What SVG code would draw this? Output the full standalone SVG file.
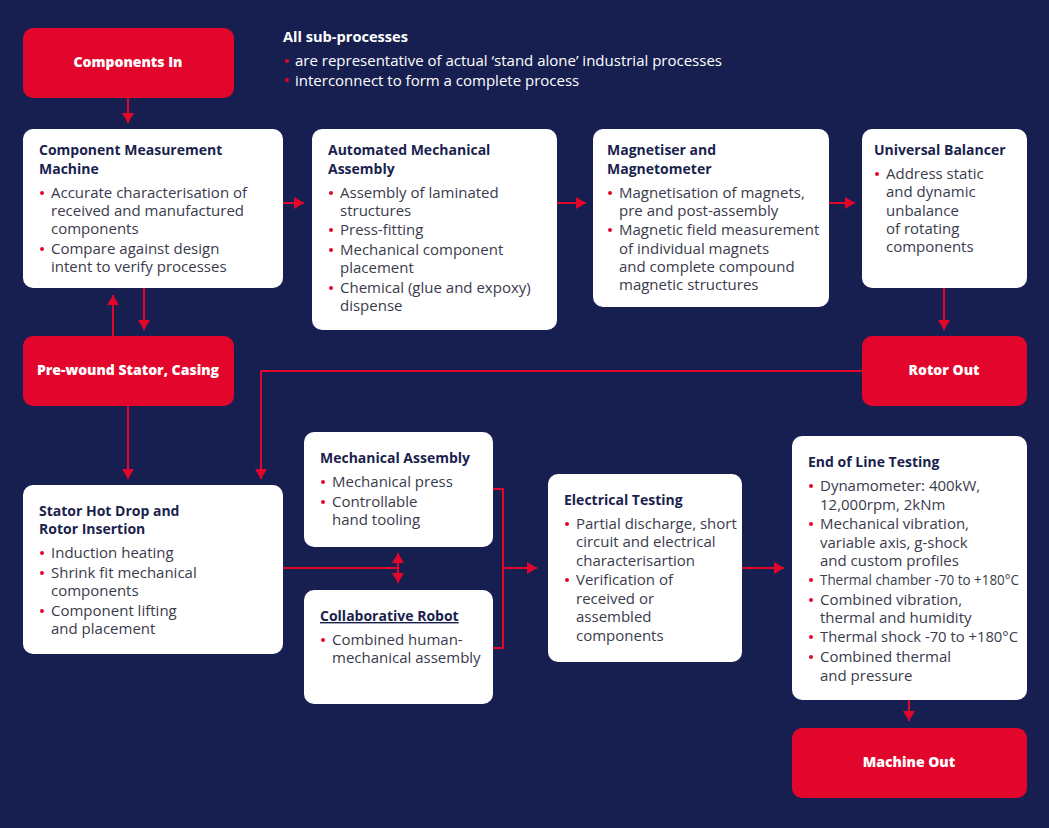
<svg xmlns="http://www.w3.org/2000/svg" width="1049" height="828" viewBox="0 0 1049 828">
<style>
.bg{fill:#171f50}
.card{fill:#ffffff}
.red{fill:#e3062c}
.rl{font-family:"Open Sans","Liberation Sans",Arial,sans-serif;font-size:14px;font-weight:800;fill:#ffffff;text-anchor:middle}
.t{font-family:"Open Sans","Liberation Sans",Arial,sans-serif;font-size:14px;font-weight:bold;fill:#1a1f4e}
.b{font-family:"Open Sans","Liberation Sans",Arial,sans-serif;font-size:15px;fill:#3a3b4c}
.h{font-family:"Open Sans","Liberation Sans",Arial,sans-serif;font-size:14.6px;font-weight:bold;fill:#ffffff}
.hb{font-family:"Open Sans","Liberation Sans",Arial,sans-serif;font-size:15px;fill:#ffffff}
.dot{fill:#e3062c}
.c{fill:none;stroke:#e3062c;stroke-width:2}
</style>
<defs>
<marker id="ah" markerUnits="userSpaceOnUse" markerWidth="10" markerHeight="12" refX="10" refY="6" orient="auto-start-reverse">
<path d="M0,0 L10,6 L0,12 z" fill="#e3062c"/>
</marker>
</defs>
<rect class="bg" x="0" y="0" width="1049" height="828"/>

<g id="header">
<text class="h" x="283" y="42">All sub-processes</text>
<circle class="dot" cx="287" cy="61" r="2"/>
<text class="hb" x="295" y="66">are representative of actual ‘stand alone’ industrial processes</text>
<circle class="dot" cx="287" cy="80" r="2"/>
<text class="hb" x="295" y="86">interconnect to form a complete process</text>
</g>

<g id="connectors">
<path class="c" d="M128,98 V123" marker-end="url(#ah)"/>
<path class="c" d="M283,203 H304" marker-end="url(#ah)"/>
<path class="c" d="M557,203 H586" marker-end="url(#ah)"/>
<path class="c" d="M829,203 H855" marker-end="url(#ah)"/>
<path class="c" d="M944,288 V330" marker-end="url(#ah)"/>
<path class="c" d="M144,288 V330" marker-end="url(#ah)"/>
<path class="c" d="M113,336 V295" marker-end="url(#ah)"/>
<path class="c" d="M128,406 V479" marker-end="url(#ah)"/>
<path class="c" d="M862,371 H261 V479" marker-end="url(#ah)"/>
<path class="c" d="M283,568 H398"/>
<path class="c" d="M398,553 V583" marker-start="url(#ah)" marker-end="url(#ah)"/>
<path class="c" d="M493,489 H503 V648 H493"/>
<path class="c" d="M503,568 H537" marker-end="url(#ah)"/>
<path class="c" d="M742,568 H784" marker-end="url(#ah)"/>
<path class="c" d="M909,700 V721" marker-end="url(#ah)"/>
</g>

<g id="components-in">
<rect class="red" x="23" y="28" width="211" height="70" rx="10"/>
<text class="rl" x="128" y="67">Components In</text>
</g>

<g id="component-measurement">
<rect class="card" x="23" y="129" width="260" height="159" rx="10"/>
<text class="t" x="39" y="155">Component Measurement</text>
<text class="t" x="39" y="174">Machine</text>
<circle class="dot" cx="42" cy="193" r="2"/>
<text class="b" x="51" y="198">Accurate characterisation of</text>
<text class="b" x="51" y="216">received and manufactured</text>
<text class="b" x="51" y="234">components</text>
<circle class="dot" cx="42" cy="249" r="2"/>
<text class="b" x="51" y="254">Compare against design</text>
<text class="b" x="51" y="272">intent to verify processes</text>
</g>

<g id="automated-mechanical-assembly">
<rect class="card" x="312" y="129" width="245" height="201" rx="10"/>
<text class="t" x="328" y="155">Automated Mechanical</text>
<text class="t" x="328" y="174">Assembly</text>
<circle class="dot" cx="331" cy="193" r="2"/>
<text class="b" x="340" y="198">Assembly of laminated</text>
<text class="b" x="340" y="216">structures</text>
<circle class="dot" cx="331" cy="230" r="2"/>
<text class="b" x="340" y="235">Press-fitting</text>
<circle class="dot" cx="331" cy="250" r="2"/>
<text class="b" x="340" y="255">Mechanical component</text>
<text class="b" x="340" y="273">placement</text>
<circle class="dot" cx="331" cy="288" r="2"/>
<text class="b" x="340" y="293">Chemical (glue and expoxy)</text>
<text class="b" x="340" y="311">dispense</text>
</g>

<g id="magnetiser">
<rect class="card" x="593" y="129" width="236" height="178" rx="10"/>
<text class="t" x="607" y="155">Magnetiser and</text>
<text class="t" x="607" y="174">Magnetometer</text>
<circle class="dot" cx="610" cy="193" r="2"/>
<text class="b" x="619" y="198">Magnetisation of magnets,</text>
<text class="b" x="619" y="216">pre and post-assembly</text>
<circle class="dot" cx="610" cy="230" r="2"/>
<text class="b" x="619" y="235">Magnetic field measurement</text>
<text class="b" x="619" y="254">of individual magnets</text>
<text class="b" x="619" y="272">and complete compound</text>
<text class="b" x="619" y="290">magnetic structures</text>
</g>

<g id="universal-balancer">
<rect class="card" x="862" y="129" width="165" height="159" rx="10"/>
<text class="t" x="874" y="155">Universal Balancer</text>
<circle class="dot" cx="877" cy="174" r="2"/>
<text class="b" x="886" y="179">Address static</text>
<text class="b" x="886" y="197">and dynamic</text>
<text class="b" x="886" y="216">unbalance</text>
<text class="b" x="886" y="234">of rotating</text>
<text class="b" x="886" y="252">components</text>
</g>

<g id="pre-wound-stator">
<rect class="red" x="23" y="336" width="211" height="70" rx="10"/>
<text class="rl" x="128" y="375">Pre-wound Stator, Casing</text>
</g>

<g id="rotor-out">
<rect class="red" x="862" y="336" width="165" height="70" rx="10"/>
<text class="rl" x="944" y="375">Rotor Out</text>
</g>

<g id="stator-hot-drop">
<rect class="card" x="23" y="485" width="260" height="169" rx="10"/>
<text class="t" x="39" y="516">Stator Hot Drop and</text>
<text class="t" x="39" y="534">Rotor Insertion</text>
<circle class="dot" cx="42" cy="553" r="2"/>
<text class="b" x="51" y="558">Induction heating</text>
<circle class="dot" cx="42" cy="573" r="2"/>
<text class="b" x="51" y="578">Shrink fit mechanical</text>
<text class="b" x="51" y="596">components</text>
<circle class="dot" cx="42" cy="611" r="2"/>
<text class="b" x="51" y="616">Component lifting</text>
<text class="b" x="51" y="634">and placement</text>
</g>

<g id="mechanical-assembly">
<rect class="card" x="304" y="432" width="189" height="115" rx="10"/>
<text class="t" x="320" y="463">Mechanical Assembly</text>
<circle class="dot" cx="323" cy="482" r="2"/>
<text class="b" x="332" y="487">Mechanical press</text>
<circle class="dot" cx="323" cy="502" r="2"/>
<text class="b" x="332" y="507">Controllable</text>
<text class="b" x="332" y="525">hand tooling</text>
</g>

<g id="collaborative-robot">
<rect class="card" x="304" y="590" width="189" height="114" rx="10"/>
<text class="t" x="320" y="621" text-decoration="underline">Collaborative Robot</text>
<circle class="dot" cx="323" cy="640" r="2"/>
<text class="b" x="332" y="645">Combined human-</text>
<text class="b" x="332" y="663">mechanical assembly</text>
</g>

<g id="electrical-testing">
<rect class="card" x="548" y="474" width="194" height="188" rx="10"/>
<text class="t" x="564" y="505">Electrical Testing</text>
<circle class="dot" cx="567" cy="524" r="2"/>
<text class="b" x="576" y="529">Partial discharge, short</text>
<text class="b" x="576" y="547">circuit and electrical</text>
<text class="b" x="576" y="566">characterisartion</text>
<circle class="dot" cx="567" cy="580" r="2"/>
<text class="b" x="576" y="585">Verification of</text>
<text class="b" x="576" y="604">received or</text>
<text class="b" x="576" y="622">assembled</text>
<text class="b" x="576" y="641">components</text>
</g>

<g id="end-of-line-testing">
<rect class="card" x="792" y="436" width="235" height="264" rx="10"/>
<text class="t" x="808" y="467">End of Line Testing</text>
<circle class="dot" cx="811" cy="486" r="2"/>
<text class="b" x="820" y="491">Dynamometer: 400kW,</text>
<text class="b" x="820" y="510">12,000rpm, 2kNm</text>
<circle class="dot" cx="811" cy="524" r="2"/>
<text class="b" x="820" y="529">Mechanical vibration,</text>
<text class="b" x="820" y="548">variable axis, g-shock</text>
<text class="b" x="820" y="566">and custom profiles</text>
<circle class="dot" cx="811" cy="580" r="2"/>
<text class="b" x="820" y="585" textLength="199" lengthAdjust="spacingAndGlyphs">Thermal chamber -70 to +180°C</text>
<circle class="dot" cx="811" cy="600" r="2"/>
<text class="b" x="820" y="605">Combined vibration,</text>
<text class="b" x="820" y="623">thermal and humidity</text>
<circle class="dot" cx="811" cy="637" r="2"/>
<text class="b" x="820" y="642" textLength="198" lengthAdjust="spacingAndGlyphs">Thermal shock -70 to +180°C</text>
<circle class="dot" cx="811" cy="657" r="2"/>
<text class="b" x="820" y="662">Combined thermal</text>
<text class="b" x="820" y="681">and pressure</text>
</g>

<g id="machine-out">
<rect class="red" x="792" y="728" width="235" height="70" rx="10"/>
<text class="rl" x="909" y="767">Machine Out</text>
</g>
</svg>
